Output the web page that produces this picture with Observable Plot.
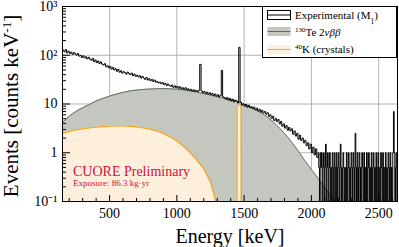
<!DOCTYPE html>
<html><head><meta charset="utf-8">
<script src="https://cdn.jsdelivr.net/npm/d3@7"></script>
<script src="https://cdn.jsdelivr.net/npm/@observablehq/plot@0.6"></script>
<style>body{margin:0;background:#fff}#chart{width:399px;height:247px}</style>
</head><body><div id="chart"></div>
<script>
// ---- data ----
// experimental spectrum, 10 keV bins from 150 to 2050 keV
const expStart = 150, expBin = 10;
const expValues = [
 128,118,131,112,121,109,116,104,113,107,
 101,108,96,99,90,97,88,93,84,91,
 83,79,86,74,80,71,76,68,73,66,
 63,67,58,61,55,59,52,56,50,53,
 47,51,45,48,43,46,44,41,45,42,
 40,43,38,41,37,39,36,38,34,37,
 34,32,35,31,33,30,32,29,31,28,
 29,27,28,26,27.5,25,26.5,24,25.5,24,
 23,24.5,22,23.5,21.5,23,21,22.5,20.5,21.5,
 20,21.5,19.5,20.5,19,20,18.5,19.5,18,19,
 18,19,65,18.5,17,18,16.5,17.5,16,17,
 15.5,16.5,15,16,14.5,15.5,14,15,49,14,
 13.5,12.5,13.5,12,13,11.5,12.5,11,12,11.5,
 10.5,145,11,9.5,10,9,9.8,8.6,9.4,8.4,
 8.8,8,8.6,7.6,8.2,7.2,7.8,6.8,7.4,6.6,
 7,6.2,6.6,5.6,6,5.1,5.6,4.6,5,4.4,
 4.8,3.9,4.4,3.5,3.9,3.2,3.6,2.9,3.3,2.8,
 3.1,2.4,2.8,2.2,2.5,1.9,2.3,1.8,2,1.6,
 1.8,1.4,1.6,1.2,1.5,1,1.3,0.9,1.2,0.8
];
// experimental spectrum, 5 keV bins from 2050 to 2650 keV
const expHighStart = 2050, expHighBin = 5;
const expHighValues = [
 1,0.5,0,1,0.5,1,0,0.5,1,0, 0.5,1.5,0,0.5,1,0,0.5,1,0,0.5,
 0,1,0.5,0,1,0.5,0,1,0,0.5, 1,0,0.5,1.5,0,0.5,0,1,0.5,0,
 0.5,0,1,0,0.5,1,0,0.5,0,1, 0.5,0,1,0.5,0,2.5,0.5,0,1,0,
 0.5,1,0,0.5,0,1,0.5,0,1,0, 0.5,0,1,0,0.5,1,0,0.5,0,1,
 0,0.5,1,0,0.5,0,1,0,0.5,1, 0,0.5,0,1,0.5,0,1,0,0.5,0,
 1,0,0.5,0,1,0.5,0,1,0,0.5, 0,1,7,1,0,0.5,1,0,0.5,1
];
const teEnergy = [150,200,250,300,350,400,450,500,550,600,650,700,750,800,850,900,950,1000,1050,1100,1150,1200,1250,1300,1350,1400,1450,1500,1550,1600,1650,1700,1750,1800,1850,1900,1950,2000,2050,2100,2150,2200];
const teValues = [4.2,5.6,7.0,8.4,9.8,11.5,13,14.5,16,17.3,18.5,19.3,19.9,20.3,20.6,20.7,20.5,20.1,19.4,18.5,17.5,16.3,15.2,14.1,13.2,12.4,11.3,9.9,8.6,7.3,6.0,4.7,3.5,2.5,1.7,1.1,0.7,0.45,0.3,0.19,0.13,0.085];
const k40Energy = [150,200,250,300,350,400,450,500,550,600,650,700,750,800,850,900,950,1000,1050,1100,1150,1200,1250,1280,1290,1300,1447,1448,1478,1479];
const k40Values = [2.5,2.75,2.95,3.1,3.25,3.35,3.45,3.52,3.56,3.56,3.5,3.4,3.25,3.05,2.8,2.5,2.1,1.75,1.35,1.0,0.7,0.47,0.25,0.13,0.1,0,0,9.5,9.5,0];
const xTicks = [500,1000,1500,2000,2500];
const xTickLabels = ["500","1000","1500","2000","2500"];
const yTicks = [0.1,1,10,100,1000];
const yTickLabels = ["10\u207B\u00B9","1","10","10\u00B2","10\u00B3"];
const xDomain = [150,2640];
const yDomain = [0.1,1000];

// ---- build tables ----
const floorV = v => v > 0 ? v : 1e-3;
const expData = expValues.map((v,i)=>({e: expStart + i*expBin, v: floorV(v)}))
  .concat(expHighValues.map((v,i)=>({e: expHighStart + i*expHighBin, v: floorV(v)})));
expData.push({e: expHighStart + expHighValues.length*expHighBin, v: floorV(expHighValues[expHighValues.length-1])});
const teData = teEnergy.map((e,i)=>({e, v: floorV(teValues[i])}));
const k40Data = k40Energy.map((e,i)=>({e, v: floorV(k40Values[i])}));
const xMinor = d3.range(200, 2700, 100).filter(d => !xTicks.includes(d) && d < xDomain[1]);
const yMinor = [];
for (const dec of [0.1,1,10,100]) for (let m=2;m<=9;m++) yMinor.push(dec*m);

const F = "'Liberation Serif', 'Times New Roman', serif";
const chart = Plot.plot({
  width: 399, height: 247,
  marginLeft: 62, marginRight: 2, marginTop: 6, marginBottom: 46,
  x: {domain: xDomain, label: null},
  y: {type: "log", domain: yDomain, label: null},
  style: {fontFamily: F, fontSize: "14px", background: "white", color: "black", overflow: "visible"},
  marks: [
    Plot.gridX(xTicks, {stroke: "#b4b4b4", strokeOpacity: 1}),
    Plot.gridY(yTicks, {stroke: "#b4b4b4", strokeOpacity: 1}),
    Plot.areaY(teData, {x: "e", y1: yDomain[0], y2: "v", fill: "#c4c7bf", curve: "monotone-x", clip: true}),
    Plot.lineY(teData, {x: "e", y: "v", stroke: "#5d6b5d", strokeWidth: 1, curve: "monotone-x", clip: true}),
    Plot.areaY(k40Data, {x: "e", y1: yDomain[0], y2: "v", fill: "#fdefdc", clip: true}),
    Plot.lineY(k40Data, {x: "e", y: "v", stroke: "#f5a623", strokeWidth: 1.3, clip: true}),
    Plot.lineY(expData, {x: "e", y: "v", curve: "step-after", stroke: "black", strokeWidth: 1, clip: true}),
    Plot.axisX(xTicks, {tickSize: 0, tickPadding: 7, fontSize: 14, fontFamily: F, tickFormat: d => xTickLabels[xTicks.indexOf(d)], label: null}),
    Plot.axisX(xTicks, {tickSize: -6, tickFormat: () => "", label: null}),
    Plot.axisX(xMinor, {tickSize: -3, tickFormat: () => "", label: null}),
    Plot.axisY(yTicks, {tickSize: 0, tickPadding: 5, fontSize: 14, fontFamily: F, tickFormat: d => yTickLabels[yTicks.indexOf(d)], label: null}),
    Plot.axisY(yTicks, {tickSize: -8, tickFormat: () => "", label: null}),
    Plot.axisY(yMinor, {tickSize: -4, tickFormat: () => "", label: null}),
    Plot.frame({stroke: "black"})
  ]
});
document.getElementById("chart").appendChild(chart);

// ---- annotations ----
const svg = d3.select(chart);
const txt = () => svg.append("text").attr("font-family", F).attr("text-anchor", "start").attr("fill", "black");
txt().attr("x", 230).attr("y", 242.5).attr("text-anchor", "middle").attr("font-size", 20).text("Energy [keV]");
txt().attr("transform", "translate(18,106) rotate(-90)").attr("text-anchor", "middle").attr("font-size", 21)
  .html('Events [counts keV<tspan baseline-shift="super" font-size="13">-1</tspan>]');
txt().attr("x", 73).attr("y", 175.5).attr("font-size", 14).attr("fill", "#c8143c").text("CUORE Preliminary");
txt().attr("x", 73).attr("y", 185.5).attr("font-size", 9).attr("fill", "#c8143c").text("Exposure: 86.3 kg\u00B7yr");

// legend
const lg = svg.append("g");
lg.append("rect").attr("x", 262.5).attr("y", 6.5).attr("width", 134).attr("height", 51)
  .attr("fill", "white").attr("stroke", "black");
lg.append("rect").attr("x", 267.5).attr("y", 10.5).attr("width", 23).attr("height", 9).attr("fill", "white").attr("stroke", "black");
lg.append("line").attr("x1", 267.5).attr("x2", 290.5).attr("y1", 15).attr("y2", 15).attr("stroke", "black");
lg.append("rect").attr("x", 267.5).attr("y", 27).attr("width", 23).attr("height", 9).attr("fill", "#c4c7bf");
lg.append("line").attr("x1", 267.5).attr("x2", 290.5).attr("y1", 31.5).attr("y2", 31.5).attr("stroke", "#5d6b5d");
lg.append("rect").attr("x", 267.5).attr("y", 45).attr("width", 23).attr("height", 9).attr("fill", "#fdefdc");
lg.append("line").attr("x1", 267.5).attr("x2", 290.5).attr("y1", 49.5).attr("y2", 49.5).attr("stroke", "#f5a623");
const lt = (y, html) => lg.append("text").attr("x", 295).attr("y", y).attr("text-anchor", "start")
  .attr("font-family", F).attr("font-size", 11).attr("fill", "black").html(html);
lt(19, 'Experimental (M<tspan baseline-shift="sub" font-size="7.5">1</tspan>)');
lt(36, '<tspan baseline-shift="super" font-size="7">130</tspan>Te 2<tspan font-style="italic">\u03BD\u03B2\u03B2</tspan>');
lt(53, '<tspan baseline-shift="super" font-size="7">40</tspan>K (crystals)');
</script></body></html>
